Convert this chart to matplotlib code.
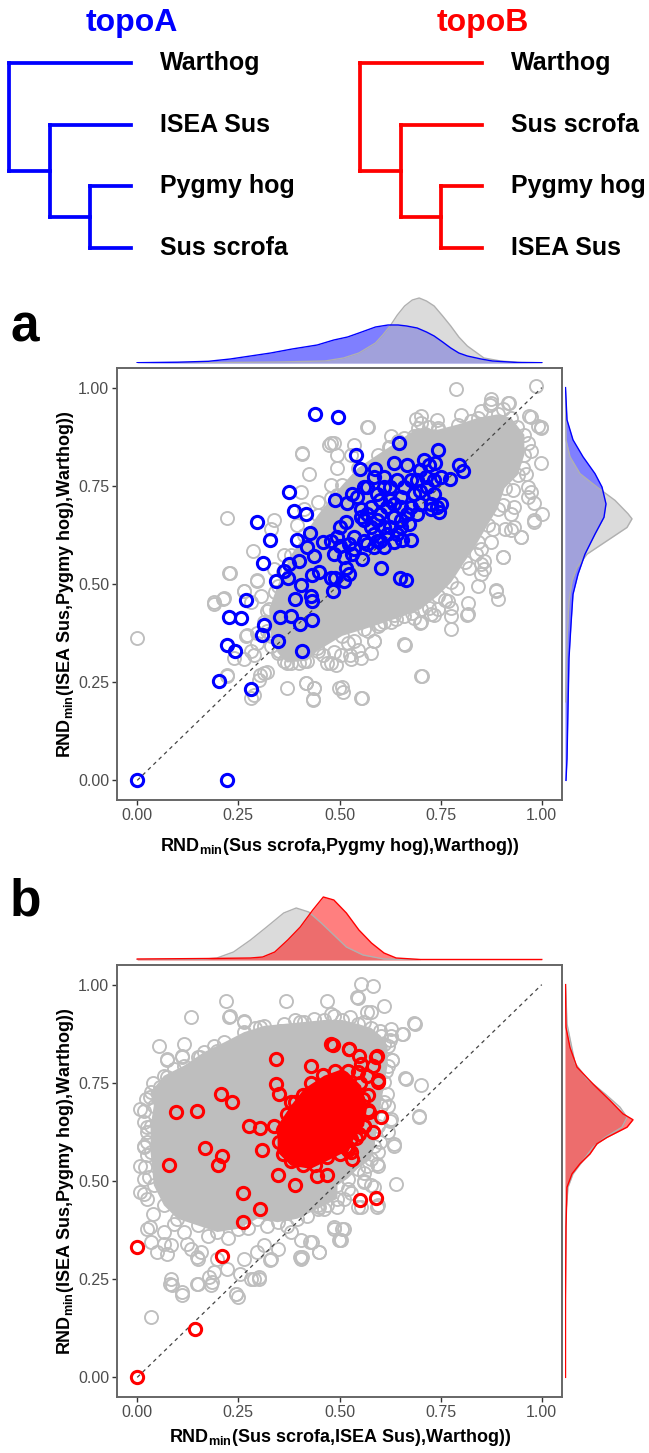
import numpy as np
import matplotlib.pyplot as plt

plt.rcParams['font.family'] = ['Liberation Sans', 'DejaVu Sans']
plt.rcParams['mathtext.fontset'] = 'custom'
plt.rcParams['mathtext.rm'] = 'Liberation Sans'

# trees (nested tuples, top to bottom)
topoA = ('Warthog', ('ISEA Sus', ('Pygmy hog', 'Sus scrofa')))
topoB = ('Warthog', ('Sus scrofa', ('Pygmy hog', 'ISEA Sus')))

# ---------------- panel a data ----------------
# dense grey core of the cloud (outline)
a_core = np.array([
    (0.330, 0.368), (0.326, 0.436), (0.347, 0.496), (0.380, 0.573), (0.413, 0.624),
    (0.446, 0.675), (0.479, 0.718), (0.507, 0.752), (0.545, 0.795), (0.594, 0.829),
    (0.644, 0.863), (0.693, 0.897), (0.743, 0.893), (0.792, 0.906), (0.842, 0.923),
    (0.891, 0.932), (0.924, 0.923), (0.957, 0.880), (0.957, 0.829), (0.941, 0.778),
    (0.908, 0.744), (0.891, 0.692), (0.866, 0.650), (0.842, 0.607), (0.809, 0.556),
    (0.776, 0.504), (0.743, 0.470), (0.701, 0.436), (0.660, 0.419), (0.611, 0.402),
    (0.561, 0.385), (0.507, 0.368), (0.446, 0.330), (0.420, 0.305), (0.370, 0.300),
    (0.347, 0.325)])

# grey points outside the core
a_grey = np.array([
    (0.408, 0.833), (0.474, 0.855), (0.487, 0.859), (0.425, 0.779), (0.223, 0.667),
    (0.338, 0.662), (0.285, 0.583), (0.229, 0.528), (0.297, 0.509), (0.264, 0.483),
    (0.190, 0.453), (0.213, 0.463), (0.000, 0.363), (0.268, 0.368), (0.281, 0.329),
    (0.264, 0.308), (0.223, 0.265), (0.314, 0.274), (0.301, 0.256), (0.281, 0.209),
    (0.370, 0.235), (0.417, 0.248), (0.437, 0.235), (0.435, 0.205), (0.499, 0.235),
    (0.470, 0.299), (0.491, 0.295), (0.404, 0.735), (0.495, 0.795), (0.413, 0.692),
    (0.330, 0.641), (0.788, 0.996), (0.986, 1.004), (0.875, 0.970), (0.871, 0.957),
    (0.916, 0.962), (0.969, 0.929), (0.990, 0.903), (0.998, 0.897), (0.571, 0.899),
    (0.701, 0.910), (0.685, 0.876), (0.998, 0.808), (0.965, 0.748), (0.974, 0.735),
    (0.982, 0.705), (1.000, 0.679), (0.982, 0.658), (0.949, 0.620), (0.908, 0.641),
    (0.924, 0.637), (0.904, 0.568), (0.887, 0.483), (0.891, 0.462), (0.850, 0.551),
    (0.838, 0.577), (0.817, 0.423), (0.776, 0.419), (0.776, 0.386), (0.701, 0.402),
    (0.660, 0.346), (0.703, 0.267), (0.586, 0.355), (0.578, 0.325), (0.545, 0.333),
    (0.528, 0.308), (0.508, 0.226), (0.553, 0.209), (0.503, 0.318), (0.842, 0.494),
    (0.817, 0.451), (0.743, 0.436), (0.726, 0.423), (0.627, 0.402), (0.594, 0.393),
    (0.858, 0.538), (0.875, 0.607), (0.932, 0.697), (0.953, 0.795), (0.974, 0.838),
    (0.701, 0.927), (0.743, 0.897), (0.623, 0.850), (0.627, 0.876), (0.528, 0.829),
    (0.536, 0.855), (0.495, 0.829), (0.314, 0.402), (0.297, 0.376), (0.330, 0.342),
    (0.380, 0.299), (0.413, 0.303), (0.281, 0.453), (0.305, 0.470), (0.338, 0.538),
    (0.363, 0.573), (0.396, 0.650), (0.446, 0.709), (0.479, 0.752), (0.495, 0.726),
    (0.568, 0.899), (0.408, 0.832), (0.228, 0.527), (0.905, 0.569), (0.886, 0.484),
    (0.702, 0.267), (0.661, 0.345), (0.556, 0.210), (0.505, 0.237), (0.435, 0.207),
    (0.437, 0.234), (0.416, 0.247), (0.981, 0.662), (0.998, 0.901), (0.973, 0.926),
    (0.874, 0.961), (0.919, 0.961), (0.824, 0.914), (0.626, 0.850), (0.478, 0.858),
    (0.816, 0.422), (0.775, 0.439), (0.733, 0.422), (0.700, 0.401), (0.767, 0.456),
    (0.849, 0.525), (0.857, 0.559), (0.932, 0.644), (0.948, 0.619), (0.965, 0.721),
    (0.923, 0.679), (0.684, 0.414), (0.634, 0.422), (0.601, 0.397), (0.535, 0.354),
    (0.486, 0.328), (0.585, 0.354), (0.552, 0.311), (0.478, 0.298), (0.527, 0.320),
    (0.445, 0.337), (0.403, 0.354), (0.370, 0.337), (0.189, 0.448), (0.214, 0.465),
    (0.263, 0.482), (0.296, 0.508), (0.271, 0.371), (0.296, 0.350), (0.288, 0.320),
    (0.238, 0.311), (0.222, 0.268), (0.304, 0.268), (0.321, 0.277), (0.288, 0.217),
    (0.337, 0.371), (0.362, 0.303), (0.690, 0.920), (0.712, 0.882), (0.740, 0.918),
    (0.660, 0.872), (0.722, 0.900), (0.800, 0.930), (0.850, 0.940), (0.905, 0.945),
    (0.940, 0.900), (0.965, 0.860), (0.960, 0.780), (0.930, 0.740), (0.905, 0.700),
    (0.880, 0.640), (0.850, 0.590), (0.820, 0.540), (0.790, 0.490), (0.760, 0.460),
    (0.720, 0.440), (0.680, 0.425), (0.640, 0.410), (0.570, 0.380), (0.520, 0.350),
    (0.460, 0.320), (0.400, 0.300), (0.350, 0.330), (0.320, 0.380), (0.320, 0.430),
    (0.340, 0.480), (0.360, 0.530)])

# topoA-supporting windows (blue)
a_blue = np.array([
    (0.439, 0.933), (0.496, 0.924), (0.647, 0.858), (0.743, 0.841), (0.540, 0.828),
    (0.550, 0.794), (0.587, 0.794), (0.795, 0.803), (0.806, 0.788), (0.709, 0.815),
    (0.737, 0.807), (0.634, 0.807), (0.667, 0.803), (0.773, 0.768), (0.750, 0.773),
    (0.375, 0.733), (0.490, 0.713), (0.532, 0.730), (0.519, 0.706), (0.387, 0.687),
    (0.418, 0.677), (0.295, 0.659), (0.328, 0.613), (0.395, 0.613), (0.426, 0.629),
    (0.310, 0.553), (0.420, 0.593), (0.437, 0.572), (0.400, 0.559), (0.376, 0.550),
    (0.362, 0.533), (0.344, 0.508), (0.372, 0.515), (0.406, 0.497), (0.433, 0.523),
    (0.450, 0.530), (0.460, 0.607), (0.480, 0.610), (0.478, 0.515), (0.490, 0.515),
    (0.511, 0.508), (0.523, 0.525), (0.483, 0.482), (0.555, 0.563), (0.603, 0.542),
    (0.649, 0.516), (0.665, 0.509), (0.270, 0.459), (0.389, 0.462), (0.430, 0.469),
    (0.432, 0.456), (0.227, 0.415), (0.257, 0.414), (0.313, 0.395), (0.309, 0.371),
    (0.354, 0.415), (0.380, 0.418), (0.402, 0.397), (0.433, 0.409), (0.348, 0.354),
    (0.222, 0.345), (0.241, 0.330), (0.407, 0.330), (0.203, 0.253), (0.281, 0.232),
    (0.000, 0.000), (0.222, 0.000),
    (0.494, 0.619), (0.502, 0.644), (0.515, 0.657), (0.502, 0.597), (0.486, 0.576),
    (0.523, 0.602), (0.531, 0.576), (0.535, 0.589), (0.511, 0.568), (0.515, 0.542),
    (0.535, 0.619), (0.552, 0.691), (0.560, 0.662), (0.568, 0.679), (0.577, 0.644),
    (0.585, 0.627), (0.560, 0.610), (0.568, 0.602), (0.593, 0.610), (0.610, 0.593),
    (0.634, 0.606), (0.655, 0.612), (0.676, 0.612), (0.601, 0.679), (0.618, 0.696),
    (0.634, 0.704), (0.651, 0.696), (0.667, 0.679), (0.672, 0.653), (0.651, 0.644),
    (0.626, 0.644), (0.610, 0.644), (0.593, 0.662), (0.593, 0.730), (0.610, 0.747),
    (0.626, 0.747), (0.643, 0.764), (0.659, 0.747), (0.684, 0.730), (0.700, 0.738),
    (0.717, 0.747), (0.733, 0.730), (0.725, 0.704), (0.742, 0.696), (0.750, 0.704),
    (0.746, 0.683), (0.725, 0.691), (0.700, 0.704), (0.692, 0.679), (0.676, 0.696),
    (0.651, 0.721), (0.626, 0.713), (0.601, 0.713), (0.585, 0.773), (0.610, 0.773),
    (0.568, 0.747), (0.560, 0.747), (0.544, 0.721), (0.577, 0.696), (0.552, 0.670),
    (0.634, 0.670), (0.651, 0.662), (0.585, 0.593), (0.601, 0.610), (0.618, 0.627),
    (0.643, 0.627), (0.692, 0.764), (0.713, 0.773), (0.733, 0.764), (0.676, 0.764),
    (0.700, 0.790), (0.721, 0.803)])

# marginal densities, panel a (heights read in pixels above the baseline)
a_top_grey_x = [0.0, 0.2, 0.35, 0.464, 0.51, 0.548, 0.589, 0.607, 0.625, 0.643, 0.661, 0.68,
                0.697, 0.715, 0.734, 0.755, 0.775, 0.795, 0.816, 0.857, 0.898, 0.95, 1.0]
a_top_grey_h = [0.2, 0.5, 1, 2, 5, 10, 20, 28, 37, 48, 57, 63, 65, 62, 57, 47, 37, 26, 17, 5, 2, 0.5, 0.3]
a_top_blue_x = [0.0, 0.1, 0.176, 0.23, 0.28, 0.33, 0.383, 0.445, 0.486, 0.52, 0.548, 0.589, 0.62,
                0.645, 0.666, 0.692, 0.715, 0.734, 0.755, 0.775, 0.795, 0.816, 0.85, 0.878, 0.94, 1.0]
a_top_blue_h = [0.3, 0.8, 1.7, 4, 7, 10, 14, 18, 23, 26, 30, 36, 38, 38, 37, 35, 31, 27, 21, 15,
                10, 7, 4, 2, 0.5, 0.3]
a_right_grey_y = [1.0, 0.867, 0.824, 0.781, 0.747, 0.713, 0.679, 0.666, 0.644, 0.610, 0.576,
                  0.542, 0.508, 0.456, 0.354, 0.2]
a_right_grey_w = [0.3, 1, 5, 15, 32, 50, 63, 67, 62, 42, 22, 12, 7, 4, 2, 0.5]
a_right_blue_y = [1.0, 0.918, 0.867, 0.824, 0.781, 0.747, 0.704, 0.670, 0.627, 0.576, 0.525,
                  0.474, 0.397, 0.311, 0.183, 0.055, 0.0]
a_right_blue_w = [0.5, 2, 8, 18, 30, 37, 41, 39, 30, 20, 13, 8, 6, 4, 3, 2, 1]

# ---------------- panel b data ----------------
b_core = np.array([
    (0.041, 0.692), (0.033, 0.726), (0.066, 0.768), (0.116, 0.794), (0.165, 0.828),
    (0.215, 0.853), (0.264, 0.879), (0.314, 0.895), (0.363, 0.900), (0.413, 0.905),
    (0.462, 0.910), (0.507, 0.910), (0.545, 0.900), (0.578, 0.890), (0.602, 0.870),
    (0.619, 0.845), (0.619, 0.794), (0.611, 0.751), (0.602, 0.692), (0.594, 0.641),
    (0.586, 0.590), (0.578, 0.556), (0.545, 0.531), (0.520, 0.506), (0.495, 0.489),
    (0.495, 0.455), (0.446, 0.429), (0.396, 0.404), (0.347, 0.395), (0.297, 0.404),
    (0.248, 0.378), (0.198, 0.370), (0.149, 0.387), (0.099, 0.404), (0.066, 0.438),
    (0.041, 0.489), (0.033, 0.573), (0.033, 0.641)])

b_grey = np.array([
    (0.219, 0.959), (0.367, 0.959), (0.470, 0.959), (0.132, 0.917), (0.227, 0.917),
    (0.264, 0.908), (0.054, 0.845), (0.073, 0.809), (0.111, 0.819), (0.149, 0.815),
    (0.021, 0.709), (0.008, 0.684), (0.017, 0.650), (0.025, 0.624), (0.017, 0.590),
    (0.025, 0.565), (0.008, 0.539), (0.017, 0.506), (0.008, 0.472), (0.025, 0.455),
    (0.025, 0.378), (0.033, 0.344), (0.066, 0.370), (0.083, 0.336), (0.116, 0.370),
    (0.132, 0.327), (0.083, 0.251), (0.087, 0.234), (0.111, 0.209), (0.149, 0.238),
    (0.177, 0.255), (0.190, 0.268), (0.182, 0.234), (0.223, 0.277), (0.244, 0.213),
    (0.248, 0.204), (0.289, 0.251), (0.301, 0.255), (0.033, 0.154), (0.157, 0.319),
    (0.198, 0.302), (0.264, 0.302), (0.297, 0.319), (0.330, 0.302), (0.347, 0.327),
    (0.404, 0.302), (0.408, 0.306), (0.404, 0.349), (0.433, 0.344), (0.450, 0.319),
    (0.487, 0.378), (0.499, 0.349), (0.446, 0.438), (0.462, 0.429), (0.380, 0.370),
    (0.314, 0.336), (0.149, 0.302), (0.050, 0.319),
    (0.553, 1.002), (0.582, 0.996), (0.545, 0.966), (0.686, 0.900), (0.656, 0.874),
    (0.627, 0.870), (0.631, 0.807), (0.664, 0.760), (0.701, 0.745), (0.697, 0.665),
    (0.635, 0.590), (0.627, 0.658), (0.639, 0.493), (0.594, 0.539), (0.569, 0.539),
    (0.561, 0.497), (0.578, 0.489), (0.594, 0.438), (0.545, 0.433), (0.512, 0.378),
    (0.503, 0.349), (0.528, 0.470), (0.512, 0.455), (0.611, 0.945), (0.578, 0.930),
    (0.627, 0.887), (0.619, 0.692), (0.619, 0.624), (0.594, 0.573),
    (0.016, 0.679), (0.024, 0.637), (0.016, 0.586), (0.020, 0.535), (0.016, 0.467),
    (0.040, 0.416), (0.032, 0.383), (0.065, 0.340), (0.073, 0.315), (0.123, 0.340),
    (0.148, 0.306), (0.082, 0.238), (0.111, 0.217), (0.148, 0.238), (0.185, 0.243),
    (0.243, 0.213), (0.280, 0.251), (0.300, 0.251), (0.255, 0.264), (0.329, 0.298),
    (0.403, 0.306), (0.449, 0.319), (0.428, 0.344), (0.486, 0.383), (0.506, 0.378),
    (0.502, 0.349), (0.449, 0.433), (0.494, 0.433), (0.552, 0.433), (0.593, 0.433),
    (0.585, 0.484), (0.560, 0.501), (0.593, 0.544), (0.634, 0.595), (0.626, 0.654),
    (0.618, 0.722), (0.630, 0.807), (0.626, 0.858), (0.601, 0.883), (0.568, 0.930),
    (0.544, 0.968), (0.527, 0.917), (0.486, 0.921), (0.436, 0.913), (0.403, 0.904),
    (0.354, 0.883), (0.304, 0.891), (0.263, 0.904), (0.230, 0.921), (0.197, 0.832),
    (0.156, 0.815), (0.111, 0.815), (0.073, 0.811), (0.073, 0.764), (0.032, 0.713),
    (0.057, 0.739), (0.115, 0.849), (0.172, 0.807), (0.655, 0.874), (0.661, 0.762),
    (0.696, 0.664), (0.684, 0.902), (0.090, 0.390), (0.175, 0.360), (0.225, 0.355),
    (0.275, 0.380), (0.320, 0.385), (0.370, 0.385), (0.420, 0.410), (0.470, 0.440),
    (0.520, 0.480), (0.560, 0.520), (0.600, 0.600), (0.610, 0.700), (0.615, 0.780),
    (0.610, 0.850), (0.560, 0.905), (0.480, 0.925), (0.390, 0.910), (0.290, 0.890),
    (0.190, 0.845), (0.090, 0.785), (0.040, 0.750), (0.025, 0.600), (0.030, 0.510)])

# dense red core and individual topoB-supporting windows
b_red_core = np.array([
    (0.347, 0.641), (0.380, 0.692), (0.413, 0.735), (0.462, 0.768), (0.507, 0.785),
    (0.520, 0.777), (0.553, 0.743), (0.569, 0.692), (0.561, 0.641), (0.536, 0.607),
    (0.512, 0.573), (0.479, 0.556), (0.429, 0.531), (0.380, 0.539), (0.347, 0.573)])

b_red = np.array([
    (0.000, 0.000), (0.144, 0.122), (0.000, 0.333), (0.210, 0.310), (0.262, 0.395),
    (0.304, 0.429), (0.262, 0.469), (0.078, 0.541), (0.167, 0.584), (0.210, 0.563),
    (0.200, 0.541), (0.309, 0.580), (0.095, 0.675), (0.147, 0.678), (0.206, 0.722),
    (0.235, 0.701), (0.276, 0.640), (0.304, 0.635), (0.342, 0.811), (0.342, 0.747),
    (0.351, 0.722), (0.429, 0.792), (0.483, 0.846), (0.347, 0.516), (0.389, 0.489),
    (0.444, 0.512), (0.470, 0.516), (0.338, 0.641), (0.380, 0.701),
    (0.524, 0.836), (0.548, 0.819), (0.553, 0.798), (0.592, 0.818), (0.582, 0.794),
    (0.594, 0.753), (0.602, 0.662), (0.584, 0.624), (0.548, 0.620), (0.528, 0.607),
    (0.532, 0.556), (0.528, 0.573), (0.515, 0.586), (0.507, 0.590), (0.551, 0.452),
    (0.590, 0.456), (0.557, 0.709), (0.545, 0.667), (0.573, 0.675), (0.561, 0.641),
    (0.545, 0.777), (0.569, 0.768), (0.478, 0.849), (0.523, 0.836), (0.595, 0.756),
    (0.589, 0.815),
    (0.350, 0.600), (0.360, 0.630), (0.370, 0.670), (0.390, 0.700), (0.410, 0.720),
    (0.430, 0.750), (0.460, 0.770), (0.490, 0.780), (0.520, 0.780), (0.550, 0.750),
    (0.570, 0.720), (0.570, 0.680), (0.560, 0.640), (0.540, 0.610), (0.520, 0.580),
    (0.500, 0.570), (0.470, 0.560), (0.440, 0.540), (0.410, 0.540), (0.380, 0.550),
    (0.360, 0.570)])

# marginal densities, panel b
b_top_grey_x = [0.0, 0.156, 0.197, 0.238, 0.28, 0.32, 0.362, 0.393, 0.424, 0.455, 0.486,
                0.517, 0.558, 0.61, 0.7]
b_top_grey_h = [0.3, 0.5, 2, 8, 20, 33, 47, 52, 48, 37, 25, 13, 5, 1, 0.3]
b_top_red_x = [0.0, 0.176, 0.28, 0.31, 0.34, 0.372, 0.403, 0.434, 0.46, 0.486, 0.517, 0.548,
               0.579, 0.61, 0.64, 0.7, 1.0]
b_top_red_h = [1, 1.5, 2, 3, 8, 20, 33, 50, 63, 60, 47, 30, 17, 7, 2, 0.5, 0.5]
b_right_grey_y = [1.0, 0.9, 0.8, 0.76, 0.722, 0.688, 0.662, 0.637, 0.611, 0.586, 0.552,
                  0.518, 0.484, 0.42, 0.3, 0.15]
b_right_grey_w = [0.5, 2, 10, 22, 40, 55, 62, 57, 40, 28, 18, 8, 3, 1, 0.5, 0.3]
b_right_red_y = [1.0, 0.891, 0.84, 0.79, 0.747, 0.705, 0.671, 0.656, 0.637, 0.611, 0.595,
                 0.569, 0.544, 0.518, 0.484, 0.383, 0.2, 0.0]
b_right_red_w = [0.5, 1, 5, 12, 28, 45, 58, 68, 62, 42, 32, 25, 15, 7, 2, 1, 0.5, 0.5]

ticks = [0.0, 0.25, 0.5, 0.75, 1.0]
tick_labels = ['0.00', '0.25', '0.50', '0.75', '1.00']

GREY = '#BEBEBE'
BLUE = '#0000FF'
RED = '#FF0000'

W, H = 649, 1453
fig = plt.figure(figsize=(W / 100, H / 100), dpi=100)


def box(l, t, r, b):
    return fig.add_axes([l / W, 1 - b / H, (r - l) / W, (b - t) / H])


def ftext(x, y, s, **kw):
    fig.text(x / W, 1 - y / H, s, **kw)


def draw_tree(ax, tree, color, title):
    tips = []

    def walk(node, depth):
        if isinstance(node, str):
            tips.append(node)
            return len(tips) - 1, 3
        ys = []
        for ch in node:
            cy, cx = walk(ch, depth + 1)
            ax.plot([depth, cx], [cy, cy], color=color, lw=2.7, solid_capstyle='projecting')
            ys.append(cy)
        ax.plot([depth, depth], [min(ys), max(ys)], color=color, lw=2.7,
                solid_capstyle='projecting')
        return (min(ys) + max(ys)) / 2, depth

    walk(tree, 0)
    for i, name in enumerate(tips):
        ax.text(3.72, i, name, fontsize=18, fontweight='bold', va='center', ha='left')
    ax.text(3.02, -0.65, title, fontsize=23, fontweight='bold', color=color,
            ha='center', va='center')
    ax.set_ylim(3.681, -1.0216)
    ax.axis('off')


tA = box(0, 0, 320, 290)
tA.set_xlim(-9 / 40.67, 311 / 40.67)
draw_tree(tA, topoA, BLUE, 'topoA')
tB = box(351, 0, 649, 290)
tB.set_xlim(-9 / 40.67, 289 / 40.67)
draw_tree(tB, topoB, RED, 'topoB')


def scatter_panel(ax, core, grey, hi_core, hi, hcol):
    ax.fill(core[:, 0], core[:, 1], color=GREY, lw=0, zorder=1)
    ax.plot(core[:, 0], core[:, 1], 'o', mfc='none', mec=GREY, ms=9.4, mew=1.35, zorder=1)
    ax.plot(grey[:, 0], grey[:, 1], 'o', mfc='none', mec=GREY, ms=9.4, mew=1.35, zorder=1)
    ax.plot([0, 1], [0, 1], ls=(0, (3, 3)), color='#444444', lw=0.9, zorder=2)
    if hi_core is not None:
        ax.fill(hi_core[:, 0], hi_core[:, 1], color=hcol, lw=0, zorder=3)
    ax.plot(hi[:, 0], hi[:, 1], 'o', mfc='none', mec=hcol, ms=8.8, mew=2.2, zorder=4)
    ax.set_xlim(-0.05, 1.05)
    ax.set_ylim(-0.05, 1.05)
    ax.set_xticks(ticks)
    ax.set_xticklabels(tick_labels)
    ax.set_yticks(ticks)
    ax.set_yticklabels(tick_labels)
    for s in ax.spines.values():
        s.set_color('#666666')
        s.set_linewidth(1.4)
    ax.tick_params(length=3.5, width=1, color='#333333', labelsize=11.5,
                   labelcolor='#4D4D4D', pad=2)


def top_density(ax, gx, gh, hx, hh, hcol, grey_on_top):
    zg, zh = (2, 1) if grey_on_top else (1, 2)
    ax.fill_between(gx, 0, gh, color=GREY, alpha=0.55, lw=0, zorder=zg)
    ax.fill_between(hx, 0, hh, color=hcol, alpha=0.5, lw=0, zorder=zh)
    ax.plot(gx, gh, color='#B0B0B0', lw=1, zorder=3)
    ax.plot(hx, hh, color=hcol, lw=1, zorder=3)
    ax.set_xlim(-0.05, 1.05)
    ax.set_ylim(0, 70)
    ax.axis('off')


def right_density(ax, gy, gw, hy, hw, hcol, grey_on_top):
    zg, zh = (2, 1) if grey_on_top else (1, 2)
    ax.fill_betweenx(gy, 0, gw, color=GREY, alpha=0.55, lw=0, zorder=zg)
    ax.fill_betweenx(hy, 0, hw, color=hcol, alpha=0.5, lw=0, zorder=zh)
    ax.plot(gw, gy, color='#B0B0B0', lw=1, zorder=3)
    ax.plot(hw, hy, color=hcol, lw=1, zorder=3)
    ax.set_ylim(-0.05, 1.05)
    ax.set_xlim(0, 75)
    ax.axis('off')


ylab = r'RND$_{\mathregular{min}}$(ISEA Sus,Pygmy hog),Warthog))'
xlab_a = r'RND$_{\mathregular{min}}$(Sus scrofa,Pygmy hog),Warthog))'
xlab_b = r'RND$_{\mathregular{min}}$(Sus scrofa,ISEA Sus),Warthog))'

# panel a
axa = box(117, 368, 562, 800)
scatter_panel(axa, a_core, a_grey, None, a_blue, BLUE)
top_density(box(117, 293, 562, 363), a_top_grey_x, a_top_grey_h, a_top_blue_x, a_top_blue_h,
            BLUE, True)
right_density(box(565, 368, 640, 800), a_right_grey_y, a_right_grey_w,
              a_right_blue_y, a_right_blue_w, BLUE, True)
ftext(66, 584, ylab, rotation=90, ha='center', va='center', fontsize=13, fontweight='bold')
ftext(340, 846, xlab_a, ha='center', va='center', fontsize=13, fontweight='bold')
ftext(10, 342, 'a', fontsize=37, fontweight='bold', ha='left', va='baseline')

# panel b
axb = box(117, 965, 562, 1397)
scatter_panel(axb, b_core, b_grey, b_red_core, b_red, RED)
top_density(box(117, 890, 562, 960), b_top_grey_x, b_top_grey_h, b_top_red_x, b_top_red_h,
            RED, False)
right_density(box(565, 965, 640, 1397), b_right_grey_y, b_right_grey_w,
              b_right_red_y, b_right_red_w, RED, False)
ftext(66, 1181, ylab, rotation=90, ha='center', va='center', fontsize=13, fontweight='bold')
ftext(340, 1438, xlab_b, ha='center', va='center', fontsize=13, fontweight='bold')
ftext(10, 915, 'b', fontsize=37, fontweight='bold', ha='left', va='baseline')

fig.savefig('out.png', dpi=100)
